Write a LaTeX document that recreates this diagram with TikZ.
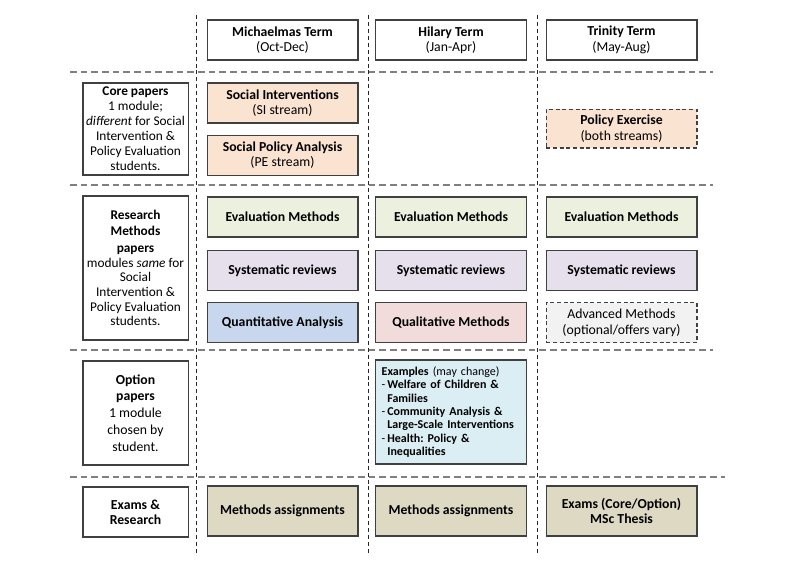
\documentclass[tikz,border=0pt]{standalone}
\usepackage{fontspec}
\setmainfont{Carlito}
\frenchspacing
\usetikzlibrary{positioning}

\definecolor{corefill}{HTML}{FAE3D1}
\definecolor{evalfill}{HTML}{EBF1DE}
\definecolor{sysfill}{HTML}{E6E0EC}
\definecolor{quantfill}{HTML}{C8D7EE}
\definecolor{qualfill}{HTML}{F2DCDB}
\definecolor{advfill}{HTML}{F2F2F2}
\definecolor{optfill}{HTML}{DBEEF4}
\definecolor{examfill}{HTML}{DDD9C3}
\definecolor{edge}{HTML}{404040}

\begin{document}
\begin{tikzpicture}[x=0.75pt, y=-0.75pt,
    box/.style={draw=edge, line width=1pt, fill=white, minimum width=113pt, minimum height=30pt,
        align=center, inner sep=1pt, font=\fontsize{10.3}{11.5}\selectfont},
    sidebox/.style={box, minimum width=79pt},
    maybebox/.style={box, dash pattern=on 3pt off 2pt},
    colline/.style={black!85, line width=0.6pt, dash pattern=on 3pt off 2.2pt},
    rowline/.style={black!50, line width=0.9pt, dash pattern=on 5pt off 3pt}]

\useasboundingbox (0,0) rectangle (800,565);

% grid
\foreach \gx in {196, 368, 537}
    \draw [colline] (\gx,15) -- (\gx,555);
\foreach \gy / \gend in {72/713, 185/713, 350/713, 477/725}
    \draw [rowline] (70,\gy) -- (\gend,\gy);

% terms
\foreach \col / \x / \term / \months in {m/282.5/Michaelmas Term/Oct-Dec, h/451/Hilary Term/Jan-Apr, t/621.5/Trinity Term/May-Aug}
    \node [box] (term\col) at (\x,40) {\textbf{\term}\\(\months)};

% left column
\node [sidebox, minimum height=69pt, font=\fontsize{10}{11.2}\selectfont] (core) at (135.5,129)
    {\textbf{Core papers}\\1 module;\\\textit{different} for Social\\Intervention \&\\Policy Evaluation\\students.};
\node [sidebox, minimum height=108pt, font=\fontsize{10}{11}\selectfont] (methods) at (135.5,268)
    {\textbf{Research}\\[1.4pt]\textbf{Methods}\\[1.4pt]\textbf{papers}\\modules \textit{same} for\\Social\\Intervention \&\\Policy Evaluation\\students.};
\node [sidebox, minimum height=78pt, font=\fontsize{10.3}{12.6}\selectfont] (option) at (135.5,413)
    {\textbf{Option}\\\textbf{papers}\\1 module\\chosen by\\student.};
\node [sidebox, minimum height=37.5pt] (exams) at (135.5,512) {\textbf{Exams \&}\\\textbf{Research}};

% core papers
\node [box, fill=corefill] (si) at (282.5,103) {\textbf{Social Interventions}\\(SI stream)};
\node [box, fill=corefill, below=8.25pt of si] (spa) {\textbf{Social Policy Analysis}\\(PE stream)};
\node [maybebox, fill=corefill, minimum height=29pt] (polex) at (621.5,128.5) {\textbf{Policy Exercise}\\(both streams)};

% methods papers
\foreach \col / \x in {m/282.5, h/451, t/621.5} {
    \node [box, fill=evalfill] (eval\col) at (\x,217) {\textbf{Evaluation Methods}};
    \node [box, fill=sysfill, below=9pt of eval\col] (sys\col) {\textbf{Systematic reviews}};
}
\node [box, fill=quantfill, below=8.25pt of sysm] (quant) {\textbf{Quantitative Analysis}};
\node [box, fill=qualfill, below=8.25pt of sysh] (qual) {\textbf{Qualitative Methods}};
\node [maybebox, fill=advfill, below=8.25pt of syst] (adv) {Advanced Methods\\(optional/offers vary)};

% option papers
\node [box, fill=optfill, minimum height=78pt, text width=104pt, align=left,
    font=\fontsize{9}{10}\selectfont] (examples) at (451,412)
    {\textbf{Examples} (may change)\\
    -\,\textbf{Welfare of Children \&}\\
    \phantom{-\,}\textbf{Families}\\
    -\,\textbf{Community Analysis \&}\\
    \phantom{-\,}\textbf{Large-Scale Interventions}\\
    -\,\textbf{Health: Policy \&}\\
    \phantom{-\,}\textbf{Inequalities}};

% exams
\node [box, fill=examfill, minimum height=37.5pt] (assignm) at (282.5,511) {\textbf{Methods assignments}};
\node [box, fill=examfill, minimum height=37.5pt] (assignh) at (451,511) {\textbf{Methods assignments}};
\node [box, fill=examfill, minimum height=37.5pt] (thesis) at (621.5,511) {\textbf{Exams (Core/Option)}\\\textbf{MSc Thesis}};

\end{tikzpicture}
\end{document}
